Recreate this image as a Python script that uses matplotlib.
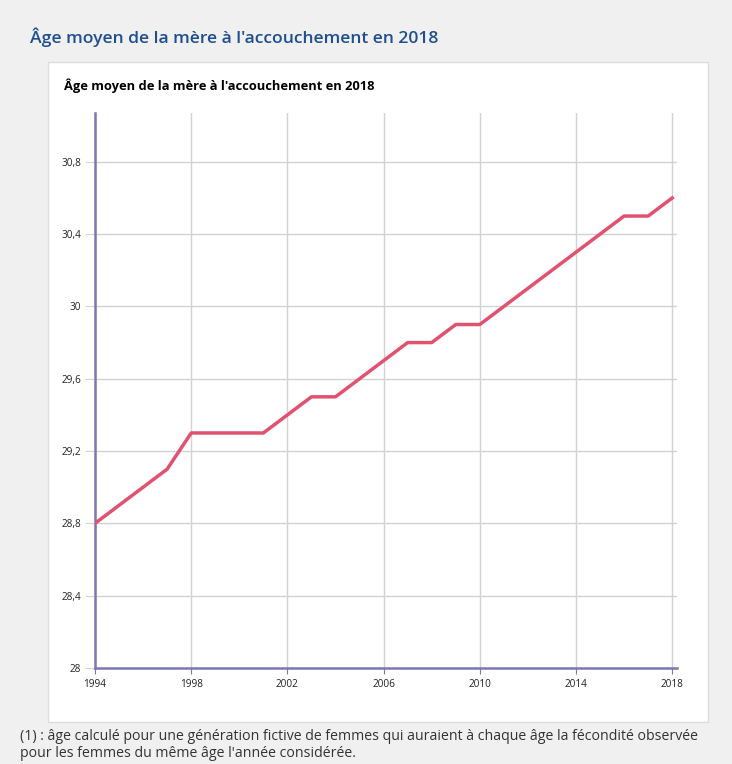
import matplotlib.pyplot as plt
from matplotlib.patches import Rectangle

# data
years = list(range(1994, 2019))
ages = [28.8, 28.9, 29.0, 29.1, 29.3, 29.3, 29.3, 29.3, 29.4, 29.5, 29.5, 29.6, 29.7,
        29.8, 29.8, 29.9, 29.9, 30.0, 30.1, 30.2, 30.3, 30.4, 30.5, 30.5, 30.6]
xticks = [1994, 1998, 2002, 2006, 2010, 2014, 2018]
yticks = [28.0, 28.4, 28.8, 29.2, 29.6, 30.0, 30.4, 30.8]
ytick_labels = ["28", "28,4", "28,8", "29,2", "29,6", "30", "30,4", "30,8"]

title = "Âge moyen de la mère à l'accouchement en 2018"
note = ("(1) : âge calculé pour une génération fictive de femmes qui auraient à chaque âge la fécondité observée\n"
        "pour les femmes du même âge l'année considérée.")

plt.rcParams['font.family'] = ['Open Sans', 'DejaVu Sans']

W, H = 732, 764
fig = plt.figure(figsize=(W / 100, H / 100), dpi=100)
fig.patch.set_facecolor("#f0f0f0")

# white chart panel
fig.patches.append(Rectangle((48 / W, 1 - 722 / H), 660 / W, 660 / H, transform=fig.transFigure,
                             facecolor="white", edgecolor="#dcdcdc", linewidth=1, zorder=-5))

fig.text(30 / W, 1 - 37 / H, title, color="#1f4f8f", fontsize=12.6, fontweight="semibold", va="center")
fig.text(64 / W, 1 - 86 / H, title, color="black", fontsize=9.3, fontweight="bold", va="center")
fig.text(20 / W, 1 - 745 / H, note, color="#333333", fontsize=10.2, va="center", linespacing=1.25)

ax = fig.add_axes([95 / W, 1 - 668 / H, 582 / W, 555 / H])
ax.set_zorder(2)
ax.set_facecolor("none")
ax.plot(years, ages, color="#e0526f", linewidth=2.5, zorder=3, solid_joinstyle="round")

ax.set_xlim(1994, 2018.2)
ax.set_ylim(28, 31.07)
ax.set_xticks(xticks)
ax.set_xticklabels([str(x) for x in xticks])
ax.set_yticks(yticks)
ax.set_yticklabels(ytick_labels)

ax.grid(True, color="#d2d2d2", linewidth=1)
ax.set_axisbelow(True)
for s in ["top", "right"]:
    ax.spines[s].set_visible(False)
for s in ["left", "bottom"]:
    ax.spines[s].set_color("#7b76b4")
    ax.spines[s].set_linewidth(1.8)

ax.tick_params(axis="y", length=7, color="#d2d2d2", labelsize=7.2, labelcolor="#222222", pad=3)
ax.tick_params(axis="x", length=4, color="#7b76b4", labelsize=7.2, labelcolor="#222222", pad=4)

fig.savefig("out.png", dpi=100, facecolor=fig.get_facecolor())
